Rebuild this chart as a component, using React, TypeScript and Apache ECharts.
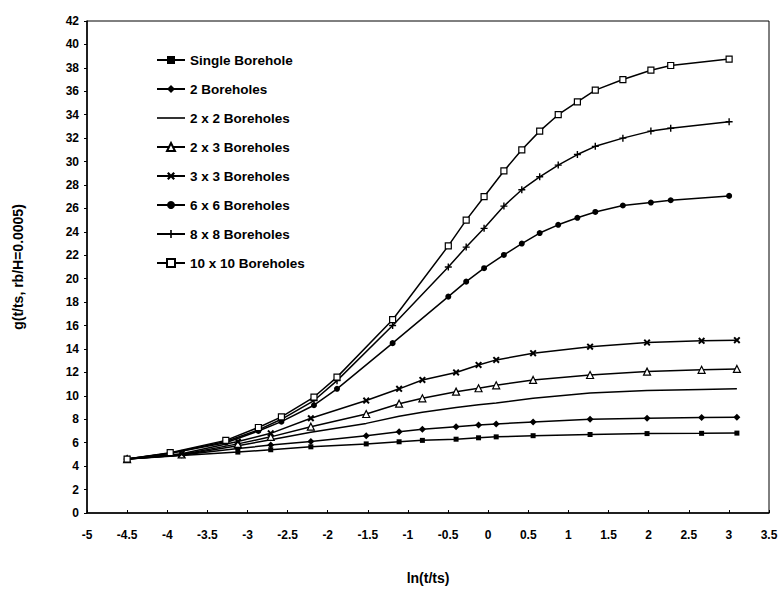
import React, { useEffect, useRef } from "react";
import * as echarts from "echarts";

// ln(t/ts) positions
const xSetA = [-4.5, -3.963, -3.27, -2.864, -2.577, -2.171, -1.884, -1.191, -0.497, -0.274, -0.051, 0.196, 0.419, 0.642, 0.873, 1.112, 1.335, 1.679, 2.028, 2.275, 3.003];
const xSetB = [-4.5, -3.82, -3.12, -2.71, -2.21, -1.52, -1.11, -0.82, -0.4, -0.12, 0.1, 0.56, 1.27, 1.98, 2.66, 3.1];

// g-function values
const singleBorehole = [4.6, 4.9, 5.2, 5.4, 5.65, 5.9, 6.08, 6.2, 6.3, 6.42, 6.5, 6.6, 6.7, 6.78, 6.8, 6.82];
const twoBoreholes = [4.6, 4.95, 5.5, 5.8, 6.1, 6.6, 6.94, 7.14, 7.37, 7.51, 7.6, 7.77, 8.0, 8.09, 8.15, 8.17];
const twoByTwo = [4.6, 4.95, 5.75, 6.25, 6.9, 7.65, 8.25, 8.6, 9.0, 9.25, 9.4, 9.8, 10.25, 10.45, 10.55, 10.6];
const twoByThree = [4.6, 5.0, 5.9, 6.5, 7.37, 8.45, 9.33, 9.79, 10.36, 10.65, 10.9, 11.36, 11.78, 12.07, 12.22, 12.3];
const threeByThree = [4.6, 5.05, 6.1, 6.8, 8.09, 9.6, 10.6, 11.36, 12.0, 12.64, 13.07, 13.64, 14.2, 14.55, 14.7, 14.75];
const sixBySix = [4.6, 5.1, 6.0, 7.0, 7.8, 9.2, 10.6, 14.5, 18.47, 19.75, 20.9, 22.03, 23.0, 23.9, 24.6, 25.2, 25.7, 26.25, 26.5, 26.7, 27.07];
const eightByEight = [4.6, 5.1, 6.1, 7.1, 8.0, 9.6, 11.3, 16.0, 21.0, 22.7, 24.3, 26.2, 27.6, 28.7, 29.7, 30.6, 31.3, 32.0, 32.6, 32.85, 33.4];
const tenByTen = [4.6, 5.15, 6.2, 7.3, 8.2, 9.9, 11.6, 16.5, 22.8, 25.0, 27.0, 29.2, 31.0, 32.6, 34.0, 35.1, 36.1, 37.0, 37.8, 38.2, 38.75];

const seriesNames = ["Single Borehole", "2 Boreholes", "2 x 2 Boreholes", "2 x 3 Boreholes", "3 x 3 Boreholes", "6 x 6 Boreholes", "8 x 8 Boreholes", "10 x 10 Boreholes"];

const xTicks = { min: -5, max: 3.5, interval: 0.5 };
const yTicks = { min: 0, max: 42, interval: 2 };

const FONT = "'Liberation Sans', Arial, sans-serif";
const X_SYMBOL = "path://M0,2 L2,0 L5,3 L8,0 L10,2 L7,5 L10,8 L8,10 L5,7 L2,10 L0,8 L3,5 Z";
const PLUS_SYMBOL = "path://M4,0 H6 V4 H10 V6 H6 V10 H4 V6 H0 V4 H4 Z";
const LINE_ICON = "path://M0,0 H28 V1.6 H0 Z";

function zip(xs: number[], ys: number[]) {
  return ys.map((y, i) => [xs[i], y]);
}

export default function App() {
  const ref = useRef<HTMLDivElement>(null);
  useEffect(() => {
    if (!ref.current) return;
    const chart = echarts.init(ref.current, undefined, { renderer: "svg" });
    const mk = (name: string, xs: number[], ys: number[], symbol: string, size: number, hollow = false) => ({
      name,
      type: "line",
      data: zip(xs, ys),
      symbol,
      symbolSize: size,
      showSymbol: symbol !== "none",
      lineStyle: { color: "#000", width: 1.5 },
      itemStyle: { color: hollow ? "#fff" : "#000", borderColor: "#000", borderWidth: hollow ? 1.2 : 0 },
      emphasis: { disabled: true },
      z: 3,
    });
    chart.setOption({
      animation: false,
      backgroundColor: "#fff",
      grid: { left: 87, right: 13, top: 21, bottom: 78, show: true, borderColor: "#000", borderWidth: 1 },
      legend: {
        orient: "vertical",
        left: 151,
        top: 48,
        itemWidth: 28,
        itemHeight: 10,
        itemGap: 15,
        textStyle: { fontFamily: FONT, fontWeight: "bold", fontSize: 13.5, color: "#000" },
        data: seriesNames.map((n) => (n === "2 x 2 Boreholes" ? { name: n, icon: LINE_ICON } : { name: n })),
      },
      xAxis: {
        type: "value",
        min: xTicks.min,
        max: xTicks.max,
        interval: xTicks.interval,
        name: "ln(t/ts)",
        nameLocation: "middle",
        nameGap: 58,
        nameTextStyle: { fontFamily: FONT, fontWeight: "bold", fontSize: 14, color: "#000" },
        axisLine: { show: true, onZero: false, lineStyle: { color: "#000", width: 1.5 } },
        axisTick: { show: true, length: 3, inside: true, lineStyle: { color: "#000" } },
        axisLabel: { fontFamily: FONT, fontWeight: "bold", fontSize: 12, color: "#000", margin: 16, showMaxLabel: true, showMinLabel: true },
        splitLine: { show: false },
      },
      yAxis: {
        type: "value",
        min: yTicks.min,
        max: yTicks.max,
        interval: yTicks.interval,
        name: "g(t/ts, rb/H=0.0005)",
        nameLocation: "middle",
        nameGap: 62,
        nameTextStyle: { fontFamily: FONT, fontWeight: "bold", fontSize: 14, color: "#000" },
        axisLine: { show: true, onZero: false, lineStyle: { color: "#000", width: 1.5 } },
        axisTick: { show: true, length: 3, lineStyle: { color: "#000" } },
        axisLabel: { fontFamily: FONT, fontWeight: "bold", fontSize: 12, color: "#000", margin: 8 },
        splitLine: { show: false },
      },
      series: [
        mk(seriesNames[0], xSetB, singleBorehole, "rect", 5),
        mk(seriesNames[1], xSetB, twoBoreholes, "diamond", 7),
        mk(seriesNames[2], xSetB, twoByTwo, "none", 0),
        mk(seriesNames[3], xSetB, twoByThree, "triangle", 7, true),
        mk(seriesNames[4], xSetB, threeByThree, X_SYMBOL, 7),
        mk(seriesNames[5], xSetA, sixBySix, "circle", 6),
        mk(seriesNames[6], xSetA, eightByEight, PLUS_SYMBOL, 7),
        mk(seriesNames[7], xSetA, tenByTen, "rect", 6, true),
      ],
    });
    return () => chart.dispose();
  }, []);
  return <div ref={ref} style={{ width: 782, height: 591, position: "absolute", left: 0, top: 0 }} />;
}
